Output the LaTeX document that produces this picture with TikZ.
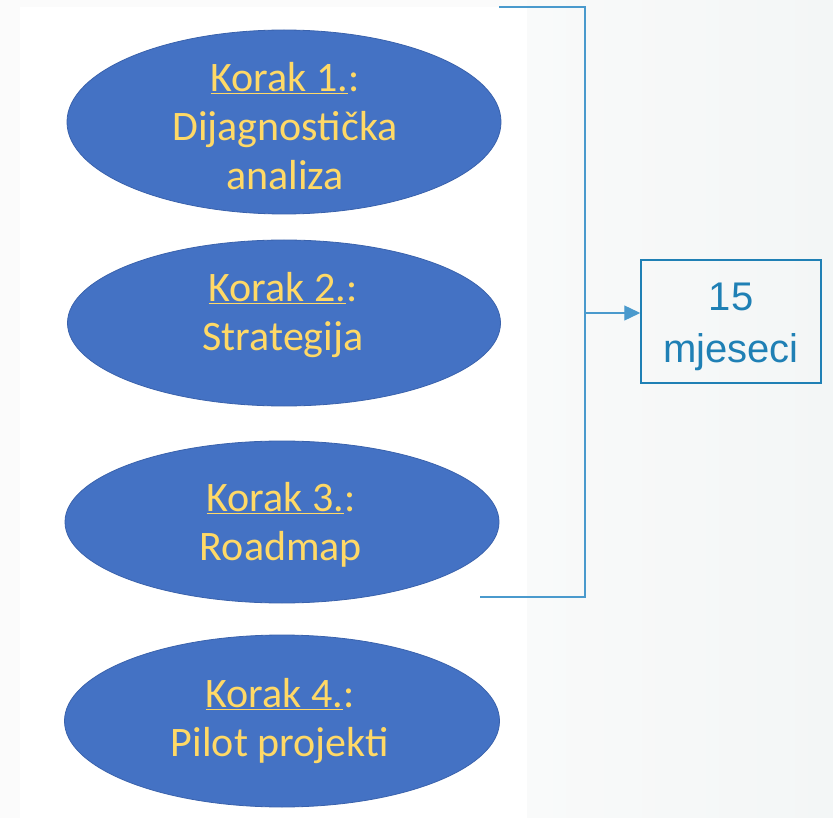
\documentclass[tikz,border=0pt]{standalone}
\usepackage{fontspec}
\setmainfont{Carlito}
\newfontfamily\arialf{Liberation Sans}
\usetikzlibrary{shapes.geometric,arrows.meta}
\definecolor{bgleft}{HTML}{FBFBFB}
\definecolor{bgr1}{HTML}{F9FAFA}
\definecolor{bgr2}{HTML}{F3F6F6}
\definecolor{ellblue}{HTML}{4472C4}
\definecolor{ellborder}{HTML}{3A62AC}
\definecolor{stepyellow}{HTML}{FFD966}
\definecolor{connblue}{HTML}{4A9ACD}
\definecolor{boxblue}{HTML}{1F80B5}
\tikzset{
  stepell/.style={ellipse, draw=ellborder, fill=ellblue, line width=0.8pt, inner sep=0pt},
  steptext/.style={text=stepyellow, font=\fontsize{42}{49}\selectfont, align=center, inner sep=0pt},
  conn/.style={draw=connblue, line width=1.3pt},
  durbox/.style={draw=boxblue, line width=1.5pt, fill=none, inner sep=0pt},
  durtext/.style={text=boxblue, inner sep=0pt, font=\arialf\fontsize{40}{52}\selectfont, align=center},
  headtip/.tip={Triangle[length=16pt,width=15pt]}
}
\begin{document}
\begin{tikzpicture}[x=1pt,y=-1pt]
\fill[bgleft] (0,0) rectangle (833,818);
\shade[left color=bgr1, right color=bgr2] (527,0) rectangle (833,818);
\fill[white] (20,7) rectangle (527,818);
\useasboundingbox (0,0) rectangle (833,818);

\node[stepell, minimum width=434pt, minimum height=184pt] (e1) at (284,122) {};
\node[steptext] (t1) at (285,126) {\underline{Korak 1.}:\\Dijagnostička\\analiza};
\node[stepell, minimum width=433pt, minimum height=166pt] (e2) at (284,323) {};
\node[steptext] (t2) at (283,315) {\underline{Korak 2.}:\\Strategija};
\node[stepell, minimum width=434pt, minimum height=162pt] (e3) at (282,522) {};
\node[steptext] (t3) at (281,525) {\underline{Korak 3.}:\\Roadmap};
\node[stepell, minimum width=435pt, minimum height=172pt] (e4) at (282,721) {};
\node[steptext] (t4) at (280,721) {\underline{Korak 4.}:\\Pilot projekti};

\node[durbox, minimum width=180pt, minimum height=123pt] (box) at (731,321.5) {};
\node[durtext] (dt) at (731,327) {15\\mjeseci};

\coordinate (bt) at (499,7);
\coordinate (c1) at (585,7);
\coordinate (c2) at (585,597);
\coordinate (bb) at (480,597);
\coordinate (bm) at (585,313);
\draw[conn] (bt) -- (c1) -- (c2) -- (bb);
\draw[conn, -headtip, fill=connblue] (bm) -- (box.west |- bm);
\end{tikzpicture}
\end{document}
